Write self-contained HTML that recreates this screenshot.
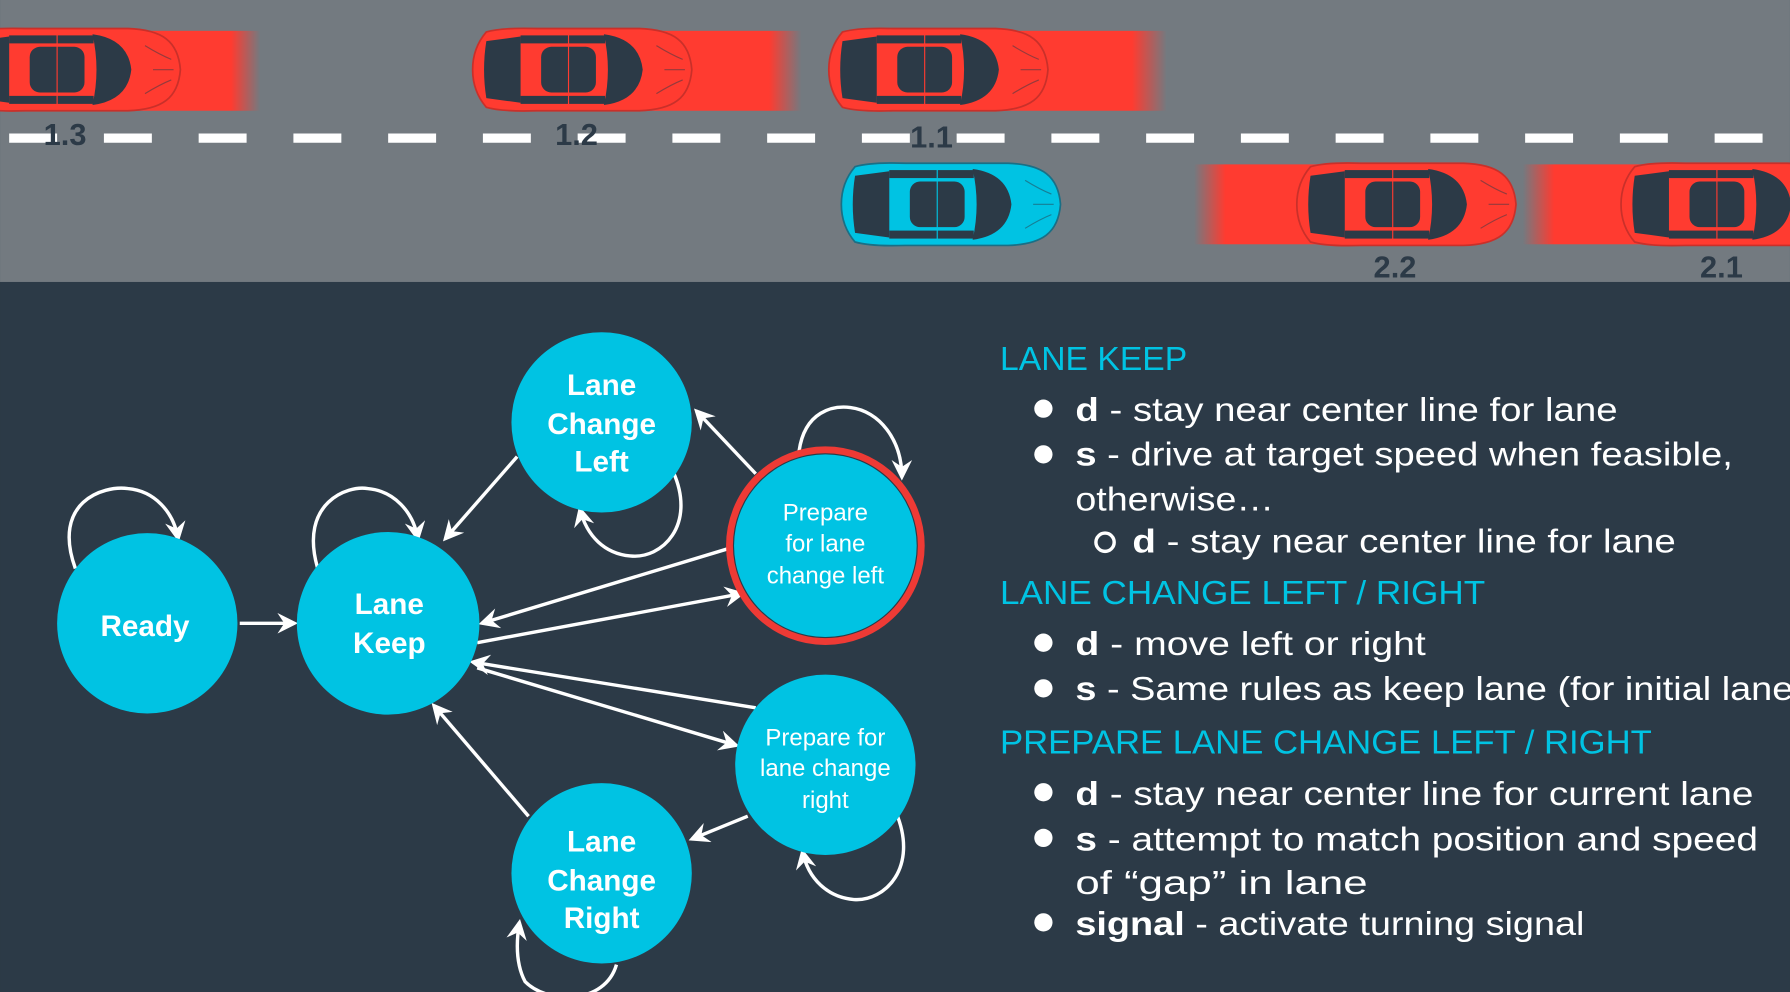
<!DOCTYPE html>
<html><head><meta charset="utf-8"><style>
html,body{margin:0;padding:0;background:#2c3a47;overflow:hidden}
svg{display:block}
text{font-family:"Liberation Sans",sans-serif}
</style></head><body>
<svg width="1790" height="992" viewBox="0 0 1568 869" xmlns="http://www.w3.org/2000/svg">
<defs>
<marker id="ah" viewBox="0 0 12 12" refX="10" refY="6" markerWidth="6" markerHeight="6" orient="auto" markerUnits="strokeWidth">
<path d="M0,0 L12,6 L0,12 L4,6 Z" fill="#fff"/></marker>
<linearGradient id="tr" x1="0" x2="1" y1="0" y2="0">
<stop offset="0" stop-color="#ff3b30"/><stop offset="0.8" stop-color="#ff3b30"/><stop offset="1" stop-color="#ff3b30" stop-opacity="0"/></linearGradient>
<linearGradient id="trl" x1="0" x2="1" y1="0" y2="0">
<stop offset="0" stop-color="#ff3b30" stop-opacity="0"/><stop offset="0.25" stop-color="#ff3b30"/><stop offset="1" stop-color="#ff3b30"/></linearGradient>
<path id="body" d="M16,6 Q30,2 60,3 L150,3 C180,4 194,14 196,39 C194,64 180,74 150,75 L60,75 Q30,76 16,72 Q4,58 4,39 Q4,20 16,6 Z"/>
<g id="det">
<path d="M16,14 L46,10 L46,68 L16,64 Q12,39 16,14 Z" fill="#2c3a47"/>
<path d="M119,8 Q150,12 153,39 Q150,66 119,70 Q126,39 119,8 Z" fill="#2c3a47"/>
<rect x="46" y="9" width="74" height="7" fill="#2c3a47"/><rect x="46" y="62" width="74" height="7" fill="#2c3a47"/>
<rect x="64" y="19" width="48" height="40" rx="9" fill="#2c3a47"/>
<path d="M165,18 Q178,26 188,30 M165,60 Q178,52 188,48 M172,39 L190,39" stroke="#2c3a47" stroke-opacity="0.5" stroke-width="1" fill="none"/>
</g>
<g id="carR"><use href="#body" fill="#ff3b30" stroke="#c9302a" stroke-width="1.5"/><use href="#det"/><line x1="88" y1="8" x2="88" y2="70" stroke="#ff3b30" stroke-width="1"/></g>
<g id="carB"><use href="#body" fill="#00c3e3" stroke="#1a6f85" stroke-width="1.5"/><use href="#det"/><line x1="88" y1="8" x2="88" y2="70" stroke="#00c3e3" stroke-width="1"/></g>
</defs>
<rect width="1568" height="869" fill="#2c3a47"/>
<rect width="1568" height="247" fill="#737a80"/>
<line x1="8" y1="121" x2="1568" y2="121" stroke="#fff" stroke-width="8" stroke-dasharray="42,41"/>
<rect x="100" y="27" width="128" height="70" fill="url(#tr)"/>
<rect x="560" y="27" width="142" height="70" fill="url(#tr)"/>
<rect x="870" y="27" width="152" height="70" fill="url(#tr)"/>
<rect x="1046" y="144" width="110" height="70" fill="url(#trl)"/>
<rect x="1334" y="144" width="110" height="70" fill="url(#trl)"/>
<use href="#carR" x="-38" y="22"/>
<use href="#carR" x="410" y="22"/>
<use href="#carR" x="722" y="22"/>
<use href="#carB" x="733" y="140"/>
<use href="#carR" x="1132" y="140"/>
<use href="#carR" x="1416" y="140"/>
<g font-weight="bold" font-size="27" fill="#2c3a47" text-anchor="middle">
<text x="57" y="127">1.3</text><text x="505" y="127">1.2</text><text x="816" y="129">1.1</text>
<text x="1222" y="243">2.2</text><text x="1508" y="243">2.1</text></g>
<g stroke="#fff" stroke-width="3" fill="none" marker-end="url(#ah)">
<line x1="210" y1="546" x2="258" y2="546"/>
<line x1="453" y1="400" x2="390" y2="472"/>
<line x1="662" y1="415" x2="610" y2="360"/>
<line x1="640" y1="480" x2="422" y2="546"/>
<line x1="418" y1="563" x2="650" y2="520"/>
<line x1="662" y1="620" x2="414" y2="580"/>
<line x1="418" y1="585" x2="645" y2="653"/>
<line x1="655" y1="715" x2="606" y2="735"/>
<line x1="463" y1="715" x2="380" y2="618"/>
<path d="M66,498 C45,440 90,425 112,428 C135,430 152,448 156,472"/>
<path d="M278,497 C262,440 305,425 322,428 C345,430 362,448 366,472"/>
<path d="M590,414 C610,460 580,490 552,487 C530,485 514,470 508,446"/>
<path d="M700,395 C705,360 730,355 745,357 C770,360 790,385 790,418"/>
<path d="M785,712 C805,760 775,790 748,788 C725,786 708,770 703,746"/>
<path d="M540,845 C530,880 480,880 460,860 C452,845 452,826 455,808"/>
</g>
<g fill="#00c3e3">
<circle cx="129" cy="546" r="79"/><circle cx="340" cy="546" r="80"/>
<circle cx="527" cy="370" r="79"/><circle cx="723" cy="478" r="80"/>
<circle cx="723" cy="670" r="79"/><circle cx="527" cy="765" r="79"/></g>
<circle cx="723" cy="478" r="84" fill="none" stroke="#ee3a35" stroke-width="6"/>
<g fill="#fff" font-weight="bold" text-anchor="middle" font-size="26">
<text x="127" y="557">Ready</text>
<text x="341" y="538">Lane</text><text x="341" y="572">Keep</text>
<text x="527" y="346">Lane</text><text x="527" y="380">Change</text><text x="527" y="413">Left</text>
<text x="527" y="746">Lane</text><text x="527" y="780">Change</text><text x="527" y="813">Right</text>
<g font-size="21" font-weight="normal">
<text x="723" y="456">Prepare</text><text x="723" y="483">for lane</text><text x="723" y="511">change left</text>
<text x="723" y="653">Prepare for</text><text x="723" y="680">lane change</text><text x="723" y="708">right</text></g>
</g>
<g font-size="29" fill="#00c3e3">
<text x="876" y="324" textLength="164" lengthAdjust="spacingAndGlyphs">LANE KEEP</text>
<text x="876" y="529" textLength="425" lengthAdjust="spacingAndGlyphs">LANE CHANGE LEFT / RIGHT</text>
<text x="876" y="660" textLength="571" lengthAdjust="spacingAndGlyphs">PREPARE LANE CHANGE LEFT / RIGHT</text>
</g>
<g fill="#fff"><circle cx="914" cy="358" r="8"/><circle cx="914" cy="398" r="8"/><circle cx="914" cy="563" r="8"/><circle cx="914" cy="603" r="8"/><circle cx="914" cy="694" r="8"/><circle cx="914" cy="734" r="8"/><circle cx="914" cy="808" r="8"/></g>
<circle cx="968" cy="475" r="8" fill="none" stroke="#fff" stroke-width="3"/>
<g font-size="29" fill="#fff">
<text x="942" y="369" textLength="475" lengthAdjust="spacingAndGlyphs"><tspan font-weight="bold">d</tspan> - stay near center line for lane</text>
<text x="942" y="408" textLength="576" lengthAdjust="spacingAndGlyphs"><tspan font-weight="bold">s</tspan> - drive at target speed when feasible,</text>
<text x="942" y="447" textLength="174" lengthAdjust="spacingAndGlyphs">otherwise…</text>
<text x="992" y="484" textLength="476" lengthAdjust="spacingAndGlyphs"><tspan font-weight="bold">d</tspan> - stay near center line for lane</text>
<text x="942" y="574" textLength="307" lengthAdjust="spacingAndGlyphs"><tspan font-weight="bold">d</tspan> - move left or right</text>
<text x="942" y="613" textLength="640" lengthAdjust="spacingAndGlyphs"><tspan font-weight="bold">s</tspan> - Same rules as keep lane (for initial lane)</text>
<text x="942" y="705" textLength="594" lengthAdjust="spacingAndGlyphs"><tspan font-weight="bold">d</tspan> - stay near center line for current lane</text>
<text x="942" y="745" textLength="598" lengthAdjust="spacingAndGlyphs"><tspan font-weight="bold">s</tspan> - attempt to match position and speed</text>
<text x="942" y="783" textLength="256" lengthAdjust="spacingAndGlyphs">of “gap” in lane</text>
<text x="942" y="819" textLength="446" lengthAdjust="spacingAndGlyphs"><tspan font-weight="bold">signal</tspan> - activate turning signal</text>
</g>
</svg>
</body></html>
